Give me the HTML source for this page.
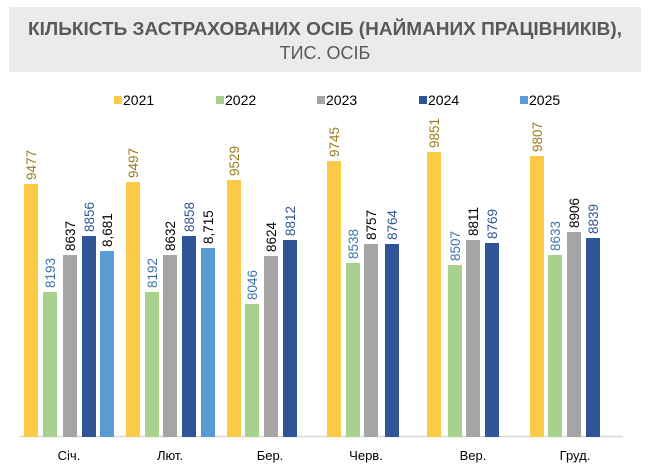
<!DOCTYPE html>
<html><head><meta charset="utf-8"><style>
body{margin:0;background:#fff;width:650px;height:475px;overflow:hidden}
svg{display:block;font-family:"Liberation Sans",sans-serif}
</style></head><body>
<svg width="650" height="475" viewBox="0 0 650 475">
<rect x="9" y="7" width="632" height="65" fill="#ebebeb"/>
<text x="28" y="35" textLength="594" lengthAdjust="spacingAndGlyphs" font-size="18" font-weight="bold" fill="#595959">КІЛЬКІСТЬ ЗАСТРАХОВАНИХ ОСІБ (НАЙМАНИХ ПРАЦІВНИКІВ),</text>
<text x="325" y="59" text-anchor="middle" font-size="18" fill="#595959">ТИС. ОСІБ</text>
<g font-size="14" fill="#000">
<rect x="114" y="96" width="8" height="8" fill="#fbcb48"/><text x="123" y="105">2021</text>
<rect x="216" y="96" width="8" height="8" fill="#a9d18e"/><text x="225" y="105">2022</text>
<rect x="317" y="96" width="8" height="8" fill="#a5a5a5"/><text x="326" y="105">2023</text>
<rect x="419" y="96" width="8" height="8" fill="#2f5597"/><text x="428" y="105">2024</text>
<rect x="520" y="96" width="8" height="8" fill="#5b9bd5"/><text x="529" y="105">2025</text>
</g>
<line x1="20" y1="436.5" x2="623" y2="436.5" stroke="#d9d9d9" stroke-width="1.5"/>
<g>
<rect x="24" y="184" width="14" height="253" fill="#fbcb48"/>
<rect x="43" y="292" width="14" height="145" fill="#a9d18e"/>
<rect x="63" y="255" width="14" height="182" fill="#a5a5a5"/>
<rect x="82" y="236" width="14" height="201" fill="#2f5597"/>
<rect x="100" y="251" width="14" height="186" fill="#5b9bd5"/>
<rect x="126" y="182" width="14" height="255" fill="#fbcb48"/>
<rect x="145" y="292" width="14" height="145" fill="#a9d18e"/>
<rect x="163" y="255" width="14" height="182" fill="#a5a5a5"/>
<rect x="182" y="236" width="14" height="201" fill="#2f5597"/>
<rect x="201" y="248" width="14" height="189" fill="#5b9bd5"/>
<rect x="227" y="180" width="14" height="257" fill="#fbcb48"/>
<rect x="245" y="304" width="14" height="133" fill="#a9d18e"/>
<rect x="264" y="256" width="14" height="181" fill="#a5a5a5"/>
<rect x="283" y="240" width="14" height="197" fill="#2f5597"/>
<rect x="327" y="161" width="14" height="276" fill="#fbcb48"/>
<rect x="346" y="263" width="14" height="174" fill="#a9d18e"/>
<rect x="364" y="244" width="14" height="193" fill="#a5a5a5"/>
<rect x="385" y="244" width="14" height="193" fill="#2f5597"/>
<rect x="427" y="152" width="14" height="285" fill="#fbcb48"/>
<rect x="448" y="265" width="14" height="172" fill="#a9d18e"/>
<rect x="466" y="240" width="14" height="197" fill="#a5a5a5"/>
<rect x="485" y="243" width="14" height="194" fill="#2f5597"/>
<rect x="530" y="156" width="14" height="281" fill="#fbcb48"/>
<rect x="548" y="255" width="14" height="182" fill="#a9d18e"/>
<rect x="567" y="232" width="14" height="205" fill="#a5a5a5"/>
<rect x="586" y="238" width="14" height="199" fill="#2f5597"/>
</g>
<g font-size="13.5">
<text transform="translate(36,180) rotate(-90)" fill="#9a7d1a">9477</text>
<text transform="translate(55,288) rotate(-90)" fill="#3d73ad">8193</text>
<text transform="translate(75,251) rotate(-90)" fill="#000">8637</text>
<text transform="translate(94,232) rotate(-90)" fill="#2f5597">8856</text>
<text transform="translate(112,247) rotate(-90)" fill="#000">8,681</text>
<text transform="translate(138,178) rotate(-90)" fill="#9a7d1a">9497</text>
<text transform="translate(157,288) rotate(-90)" fill="#3d73ad">8192</text>
<text transform="translate(175,251) rotate(-90)" fill="#000">8632</text>
<text transform="translate(194,232) rotate(-90)" fill="#2f5597">8858</text>
<text transform="translate(213,244) rotate(-90)" fill="#000">8,715</text>
<text transform="translate(239,176) rotate(-90)" fill="#9a7d1a">9529</text>
<text transform="translate(257,300) rotate(-90)" fill="#3d73ad">8046</text>
<text transform="translate(276,252) rotate(-90)" fill="#000">8624</text>
<text transform="translate(295,236) rotate(-90)" fill="#2f5597">8812</text>
<text transform="translate(339,157) rotate(-90)" fill="#9a7d1a">9745</text>
<text transform="translate(358,259) rotate(-90)" fill="#3d73ad">8538</text>
<text transform="translate(376,240) rotate(-90)" fill="#000">8757</text>
<text transform="translate(397,240) rotate(-90)" fill="#2f5597">8764</text>
<text transform="translate(439,148) rotate(-90)" fill="#9a7d1a">9851</text>
<text transform="translate(460,261) rotate(-90)" fill="#3d73ad">8507</text>
<text transform="translate(478,236) rotate(-90)" fill="#000">8811</text>
<text transform="translate(497,239) rotate(-90)" fill="#2f5597">8769</text>
<text transform="translate(542,152) rotate(-90)" fill="#9a7d1a">9807</text>
<text transform="translate(560,251) rotate(-90)" fill="#3d73ad">8633</text>
<text transform="translate(579,228) rotate(-90)" fill="#000">8906</text>
<text transform="translate(598,234) rotate(-90)" fill="#2f5597">8839</text>
</g>
<g font-size="13" fill="#000" text-anchor="middle">
<text x="69" y="460">Січ.</text>
<text x="170" y="460">Лют.</text>
<text x="270" y="460">Бер.</text>
<text x="366" y="460">Черв.</text>
<text x="473" y="460">Вер.</text>
<text x="575" y="460">Груд.</text>
</g>
</svg>
</body></html>
